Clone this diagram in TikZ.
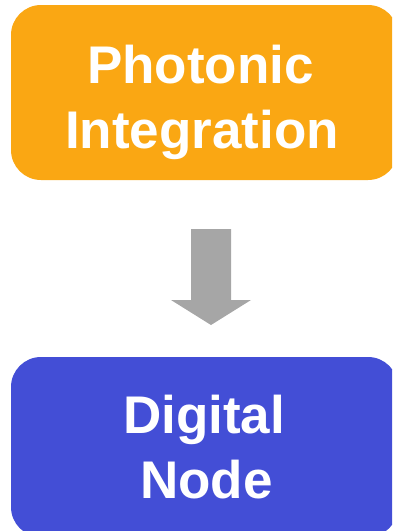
\documentclass[tikz,border=0pt]{standalone}
\usepackage{fontspec}
\setmainfont{Liberation Sans}
\definecolor{boxorange}{RGB}{250,167,19}
\definecolor{boxblue}{RGB}{67,78,214}
\definecolor{arrowgray}{RGB}{166,166,166}
\begin{document}
\begin{tikzpicture}[x=1pt,y=-1pt,
  blockbox/.style={fill=#1,draw=none,rounded corners=30pt},
  boxtext/.style={text=white,font=\fontsize{53}{60}\selectfont\bfseries,inner sep=0pt,anchor=base}]
\useasboundingbox (0,0) rectangle (392,531);
\clip (0,0) rectangle (392,531);
\path[blockbox=boxorange] (11,5) rectangle (398,180);
\path[blockbox=boxblue] (11,357) rectangle (398,537);
\node[boxtext] (top1) at (200.5,83) {Photonic};
\node[boxtext] (top2) at (202,148) {Integration};
\node[boxtext] (bot1) at (204,433) {Digital};
\node[boxtext] (bot2) at (206.5,498) {Node};
\coordinate (tip) at (211,325);
\fill[arrowgray] (191,229) -- (231,229) -- (231,300) -- (251,300) -- (tip) -- (171,300) -- (191,300) -- cycle;
\end{tikzpicture}
\end{document}
